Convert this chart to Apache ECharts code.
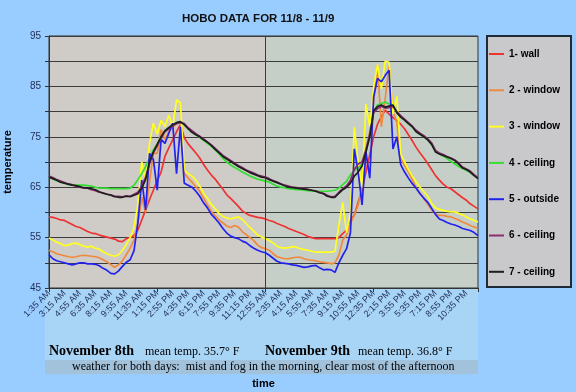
<!DOCTYPE html>
<html><head><meta charset="utf-8">
<script src="https://cdn.jsdelivr.net/npm/echarts@6/dist/echarts.min.js"></script>
<style>html,body{margin:0;padding:0;background:#99CCFF;}#c{width:576px;height:392px;}</style>
</head><body><div id="c"></div>
<script>
// ---- data (temperature, °F), one reading every 25 minutes starting 1:35 AM 11/8 ----
const STEP_MIN = 25;           // sample interval (minutes)
const AXIS_MAX = 2775;         // minutes covered by the x axis
const DAY_SPLIT = 1400;        // 12:55 AM 11/9
const tickLabels = ['1:35 AM','3:15 AM','4:55 AM','6:35 AM','8:15 AM','9:55 AM','11:35 AM','1:15 PM','2:55 PM','4:35 PM','6:15 PM','7:55 PM','9:35 PM','11:15 PM','12:55 AM','2:35 AM','4:15 AM','5:55 AM','7:35 AM','9:15 AM','10:55 AM','12:35 PM','2:15 PM','3:55 PM','5:35 PM','7:15 PM','8:55 PM','10:35 PM'];
const seriesNames = ['1- wall','2 - window','3 - window','4 - ceiling','5 - outside','6 - ceiling','7 - ceiling'];

const wall = [59.1,59.0,58.8,58.5,58.4,58.0,57.6,57.2,57.0,56.6,
56.2,55.9,55.8,55.5,55.3,55.1,54.9,54.7,54.3,54.2,
54.8,55.0,55.4,56.5,58.5,60.5,62.5,64.4,66.3,68.0,
71.1,72.8,74.4,76.0,77.4,74.8,73.6,72.7,71.8,70.8,
69.5,68.4,67.4,66.6,65.6,64.6,63.5,62.8,62.0,61.2,
60.3,59.8,59.4,59.2,59.0,58.9,58.7,58.4,58.2,57.8,
57.5,57.2,56.8,56.5,56.2,55.9,55.6,55.2,55.0,54.8,
54.8,54.8,54.8,54.8,54.8,55.0,55.8,56.5,58.5,59.5,
62.0,64.5,68.0,71.5,75.0,77.5,79.0,80.3,79.5,78.8,
78.2,77.5,76.6,75.4,74.2,72.9,71.8,70.8,69.7,68.5,
67.3,66.4,65.6,65.0,64.7,64.1,63.5,62.9,62.4,61.7,61.2,60.7];

const window2 = [52.5,52.2,51.8,51.6,51.4,51.2,51.1,51.2,51.4,51.5,
51.4,51.3,51.2,51.0,50.6,50.2,49.6,49.1,49.6,50.4,
51.6,52.9,54.5,57.7,63.0,60.0,66.0,71.7,71.7,76.4,
74.5,76.0,77.0,77.6,78.0,67.7,66.8,66.0,65.1,64.2,
62.8,61.5,60.2,59.3,58.5,57.9,57.3,57.0,57.4,57.1,
56.2,55.6,55.0,54.4,53.5,53.0,52.8,52.5,51.8,51.2,
51.0,50.8,50.8,51.0,51.1,51.1,50.8,50.6,50.5,50.4,
50.2,50.1,50.0,49.8,50.0,51.5,54.5,55.5,57.8,59.5,
61.5,65.0,72.0,76.0,82.0,89.2,77.0,82.6,89.2,79.9,
77.9,70.8,69.3,68.0,66.5,64.9,63.8,62.8,61.6,60.5,
59.7,59.4,59.4,59.2,59.1,58.8,58.5,58.1,57.8,57.4,57.1,56.8];

const window3 = [54.9,54.5,54.1,53.8,53.4,53.5,53.8,53.9,53.6,53.3,
53.1,53.3,52.9,52.7,52.2,51.8,51.5,51.3,51.6,52.5,
53.6,55.0,57.0,61.7,70.0,66.0,73.7,77.7,75.5,78.3,
77.0,79.3,77.0,82.3,81.7,68.4,67.7,67.2,66.4,65.2,
63.8,62.8,61.6,60.7,59.8,59.2,58.9,58.7,58.9,59.1,
58.6,57.8,57.0,56.3,55.5,55.1,54.8,54.4,53.9,53.3,
53.0,52.9,53.0,53.2,53.1,52.8,52.6,52.5,52.3,52.1,
52.1,52.1,52.1,52.1,52.3,57.5,62.0,56.0,60.0,76.9,
70.0,65.0,81.5,77.0,84.9,89.3,84.5,90.0,89.8,79.5,
83.0,71.5,70.0,68.5,67.2,66.1,65.0,64.1,63.2,61.8,
60.9,60.6,60.4,60.2,60.1,60.1,59.8,59.5,59.1,58.7,58.4,58.1];

const ceiling4 = [67.0,66.7,66.3,66.0,65.8,65.5,65.4,65.4,65.4,65.4,
65.3,65.2,65.0,64.8,64.8,64.8,64.7,64.7,64.7,64.7,
64.7,64.8,65.4,66.5,67.7,69.1,70.8,72.4,73.6,75.0,
76.2,76.8,77.4,77.8,78.0,77.4,76.6,75.9,75.4,74.9,
74.3,73.7,73.1,72.4,71.6,70.7,70.0,69.4,68.9,68.5,
68.0,67.6,67.2,66.9,66.6,66.4,66.2,66.0,65.6,65.2,
65.0,64.9,64.7,64.6,64.5,64.5,64.4,64.3,64.2,64.2,
64.2,64.2,64.2,64.3,64.4,64.8,65.5,66.2,67.5,68.3,
68.8,69.6,72.0,75.5,80.0,81.3,81.6,81.9,81.5,81.3,
79.8,78.9,78.3,77.6,77.0,76.0,75.5,75.0,74.4,73.5,
72.2,71.6,71.2,70.7,70.1,69.6,69.1,68.7,68.3,67.9,67.3,66.8];

const outside5 = [51.6,50.8,50.4,50.2,50.0,49.8,49.6,49.8,50.0,50.0,
49.8,49.8,49.7,49.4,48.9,48.5,47.9,47.8,48.4,49.3,
50.1,50.6,52.4,58.0,66.4,60.5,71.7,70.5,64.4,74.5,
73.7,75.7,77.7,67.7,77.0,65.8,65.4,65.0,64.2,63.2,
61.9,60.9,59.6,58.8,57.9,56.8,55.9,55.3,55.0,54.8,
54.3,54.0,53.4,52.9,52.5,52.2,52.0,51.5,50.9,50.3,
50.0,49.9,49.8,49.6,49.5,49.3,49.1,49.2,49.4,49.5,
49.0,48.6,48.7,48.6,48.1,50.0,51.5,52.8,56.0,72.6,
68.0,61.5,72.0,66.8,82.9,86.6,85.9,87.2,88.2,72.6,
75.0,69.5,68.0,66.8,65.7,64.8,63.7,62.8,62.0,60.8,
59.6,58.7,58.4,58.0,57.7,57.5,57.2,56.8,56.6,56.4,56.0,55.4];

const ceiling6 = [67.2,66.9,66.5,66.2,65.9,65.6,65.5,65.2,65.0,64.8,
64.8,64.5,64.3,64.0,63.9,63.6,63.5,63.2,63.2,63.1,
63.3,63.2,63.6,64.0,65.2,67.0,69.6,71.8,73.2,74.8,
76.0,76.6,77.2,77.6,77.8,77.6,76.8,76.2,75.6,75.1,
74.6,74.0,73.4,72.7,72.0,71.3,70.8,70.3,69.8,69.3,
68.9,68.4,68.1,67.8,67.4,67.2,67.0,66.7,66.3,66.0,
65.7,65.4,65.2,65.0,64.9,64.8,64.7,64.6,64.4,64.3,
64.0,63.8,63.4,63.1,63.2,64.0,64.7,65.3,66.4,68.5,
69.6,70.0,72.5,75.5,79.8,80.6,81.0,80.7,80.8,81.0,
80.0,79.2,78.5,77.8,77.1,76.3,75.7,75.2,74.6,73.8,
72.3,71.8,71.5,71.1,70.8,70.4,69.8,69.0,68.6,68.2,67.5,66.9];

const ceiling7 = [67.0,66.7,66.4,66.0,65.8,65.6,65.4,65.3,65.1,64.9,
64.8,64.7,64.5,64.1,63.8,63.6,63.4,63.1,63.0,63.0,
63.2,63.1,63.4,63.7,64.8,66.5,70.0,72.0,73.5,75.0,
76.2,76.8,77.4,77.8,78.0,77.4,76.6,75.9,75.4,75.0,
74.4,73.9,73.3,72.5,71.8,71.1,70.6,70.1,69.6,69.1,
68.7,68.3,67.9,67.6,67.3,67.0,66.9,66.5,66.2,65.9,
65.6,65.3,65.0,64.9,64.8,64.7,64.6,64.5,64.4,64.2,
63.9,63.7,63.2,63.0,63.0,63.8,64.5,65.0,65.8,67.2,
68.0,69.2,72.0,75.0,80.2,81.0,81.3,80.9,81.1,81.3,
79.8,78.9,78.3,77.6,77.0,76.0,75.5,75.0,74.4,73.5,
72.0,71.6,71.3,71.0,70.7,70.3,69.6,68.8,68.5,68.0,67.3,66.7];

const seriesValues = [wall, window2, window3, ceiling4, outside5, ceiling6, ceiling7];
const seriesColors = ['#EE3333','#F0893E','#FFFF22','#33DD33','#2222EE','#8A2C70','#1E1E1E'];

const navy = '#1F2D55';
const chart = echarts.init(document.getElementById('c'));
const option = {
  animation: false,
  backgroundColor: '#99CCFF',
  textStyle: {fontFamily: 'Liberation Sans, Arial, sans-serif'},
  title: {
    text: 'HOBO DATA FOR 11/8 - 11/9', left: 182, top: 13, padding: 0,
    textStyle: {fontSize: 11.5, fontWeight: 'bold', color: '#111', fontFamily: 'Liberation Sans, Arial, sans-serif'}
  },
  legend: {
    orient: 'vertical', left: 489, top: 49, padding: 0,
    itemWidth: 15, itemHeight: 2, itemGap: 26.3, icon: 'rect',
    textStyle: {fontSize: 10, fontWeight: 'bold', color: '#000', fontFamily: 'Liberation Sans, Arial, sans-serif'},
    data: seriesNames
  },
  grid: {left: 49, right: 98, top: 36, bottom: 104, outerBoundsMode: 'none', containLabel: false,
    show: true, borderColor: '#333', borderWidth: 1, backgroundColor: 'transparent'},
  xAxis: [{
    type: 'value', min: 0, max: AXIS_MAX, interval: 100,
    name: 'time', nameLocation: 'middle', nameGap: 90,
    nameTextStyle: {fontSize: 11, fontWeight: 'bold', color: '#000'},
    axisLine: {show: true, lineStyle: {color: '#333', width: 1}},
    axisTick: {show: false},
    splitLine: {show: false},
    axisLabel: {rotate: 45, fontSize: 9, color: navy, margin: 4, showMaxLabel: false,
      formatter: v => (v % 100 === 0 && tickLabels[v / 100] !== undefined) ? tickLabels[v / 100] : ''}
  }, {
    type: 'value', min: 0, max: AXIS_MAX, interval: 700, position: 'bottom',
    axisLine: {show: false}, axisLabel: {show: false}, splitLine: {show: false},
    axisTick: {show: true, length: 4, lineStyle: {color: '#333'}}
  }],
  yAxis: {
    type: 'value', min: 45, max: 95, interval: 5,
    name: 'temperature', nameLocation: 'middle', nameGap: 36,
    nameTextStyle: {fontSize: 11, fontWeight: 'bold', color: '#000'},
    axisLine: {show: true, lineStyle: {color: '#333', width: 1}},
    axisTick: {show: true, length: 4, lineStyle: {color: '#333'}},
    splitLine: {show: true, lineStyle: {color: '#3c3c3c', width: 1}},
    axisLabel: {fontSize: 10, color: navy, margin: 8, formatter: v => (v % 10 === 5 ? String(v) : '')}
  },
  series: seriesNames.map((name, k) => ({
    name, type: 'line', xAxisIndex: 0, yAxisIndex: 0,
    data: seriesValues[k].map((v, i) => [i * STEP_MIN, v]),
    symbol: 'none', showSymbol: false,
    lineStyle: {width: 1.7, color: seriesColors[k]},
    itemStyle: {color: seriesColors[k]},
    markLine: k === 0 ? {
      silent: true, symbol: ['none', 'none'], label: {show: false},
      lineStyle: {color: '#3a3a3a', type: 'solid', width: 1},
      data: [{xAxis: DAY_SPLIT}]
    } : undefined
  }))
};
chart.setOption(option);

// backgrounds placed through the axes' own scales
const px = v => chart.convertToPixel({xAxisIndex: 0}, v);
const py = v => chart.convertToPixel({yAxisIndex: 0}, v);
const xL = px(0), xM = px(DAY_SPLIT), xR = px(AXIS_MAX);
const yT = py(95), yB = py(45);
const serif = 'Liberation Serif, Times New Roman, serif';
chart.setOption({
  graphic: [
    {type: 'rect', z: -10, shape: {x: xL, y: yT, width: xM - xL, height: yB - yT}, style: {fill: '#CFCBC6'}},
    {type: 'rect', z: -10, shape: {x: xM, y: yT, width: xR - xM, height: yB - yT}, style: {fill: '#C6CFC7'}},
    {type: 'rect', z: -10, shape: {x: xL - 4, y: yB + 1, width: xR - xL + 4, height: 71}, style: {fill: '#A8D4F6'}},
    {type: 'rect', z: -10, shape: {x: xL - 4, y: yB + 72, width: xR - xL + 4, height: 14}, style: {fill: '#A2C2DC'}},
    {type: 'rect', z: -10, shape: {x: 487, y: yT, width: 84, height: yB - yT - 1}, style: {fill: '#C9C9CB', stroke: '#1E2A38', lineWidth: 2}},
    {type: 'text', z: 10, left: 49, top: 344, style: {text: 'November 8th', font: 'bold 14px ' + serif, fill: '#000'}},
    {type: 'text', z: 10, left: 145, top: 346, style: {text: 'mean temp. 35.7° F', font: '12px ' + serif, fill: '#000'}},
    {type: 'text', z: 10, left: 265, top: 344, style: {text: 'November 9th', font: 'bold 14px ' + serif, fill: '#000'}},
    {type: 'text', z: 10, left: 358, top: 346, style: {text: 'mean temp. 36.8° F', font: '12px ' + serif, fill: '#000'}},
    {type: 'text', z: 10, left: 72, top: 361, style: {text: 'weather for both days:  mist and fog in the morning, clear most of the afternoon', font: '12px ' + serif, fill: '#000'}}
  ]
});
</script></body></html>
